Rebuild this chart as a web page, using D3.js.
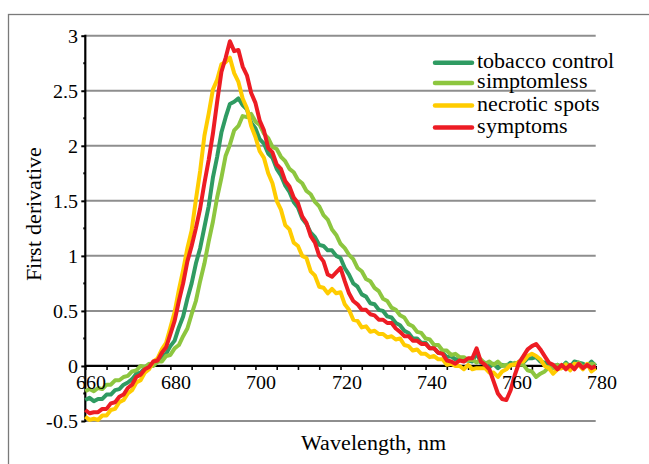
<!DOCTYPE html>
<html>
<head>
<meta charset="utf-8">
<script src="https://cdn.jsdelivr.net/npm/d3@7"></script>
<style>
  @font-face {
    font-family: "ChartSerif";
    src: local("Liberation Serif"), local("LiberationSerif"), local("LiberationSerif-Regular"), local("Liberation Serif Regular");
  }
  text { font-family: "ChartSerif", "Liberation Serif", serif !important; }
</style>
</head>
<body style="margin:0">
<svg id="chart" width="649" height="464" style="display:block"></svg>
<script>
// wavelength, nm (one point per nm)
var wavelengths = d3.range(660, 781);

var tobaccoControl = [
  -0.31,-0.29,-0.32,-0.30,-0.30,-0.26,-0.26,-0.22,-0.21,-0.17,
  -0.15,-0.12,-0.07,-0.06,-0.02,-0.01, 0.03, 0.04, 0.09, 0.11,
   0.18, 0.23, 0.35, 0.45, 0.61, 0.75, 0.93, 1.07, 1.26, 1.45,
   1.71, 1.90, 2.12, 2.26, 2.38, 2.40, 2.43, 2.37, 2.33, 2.21,
   2.16, 2.06, 2.02, 1.93, 1.89, 1.79, 1.73, 1.64, 1.58, 1.49,
   1.44, 1.34, 1.29, 1.21, 1.17, 1.10, 1.09, 1.05, 1.05, 1.00,
   0.98, 0.89, 0.83, 0.75, 0.72, 0.65, 0.63, 0.57, 0.56, 0.51,
   0.50, 0.45, 0.44, 0.39, 0.37, 0.32, 0.30, 0.25, 0.25, 0.21,
   0.21, 0.16, 0.16, 0.12, 0.12, 0.08, 0.09, 0.06, 0.06, 0.05,
   0.05, 0.04, 0.12, 0.03, 0.03,-0.01, 0.02,-0.02, 0.01, 0.00,
   0.03, 0.01, 0.04, 0.03, 0.07, 0.07, 0.08, 0.04, 0.03,-0.01,
   0.00, 0.01,-0.01, 0.03,-0.01, 0.04, 0.03, 0.02, 0.00, 0.04,
   0.00
];

var simptomless = [
  -0.23,-0.21,-0.23,-0.20,-0.21,-0.17,-0.17,-0.13,-0.13,-0.10,
  -0.09,-0.05,-0.04, 0.00,-0.01, 0.02, 0.00, 0.04, 0.04, 0.09,
   0.10, 0.16, 0.19, 0.27, 0.34, 0.47, 0.59, 0.77, 0.93, 1.13,
   1.31, 1.53, 1.71, 1.91, 2.01, 2.14, 2.18, 2.27, 2.26, 2.29,
   2.22, 2.19, 2.11, 2.07, 1.99, 1.97, 1.90, 1.86, 1.79, 1.76,
   1.69, 1.66, 1.59, 1.56, 1.49, 1.45, 1.37, 1.33, 1.24, 1.19,
   1.11, 1.07, 1.01, 0.97, 0.89, 0.86, 0.79, 0.77, 0.71, 0.68,
   0.61, 0.59, 0.53, 0.51, 0.46, 0.44, 0.38, 0.36, 0.31, 0.30,
   0.25, 0.24, 0.19, 0.19, 0.14, 0.14, 0.10, 0.11, 0.08, 0.08,
   0.05, 0.06, 0.03, 0.06, 0.02, 0.04, 0.01, 0.04, 0.00, 0.01,
   0.00, 0.03, 0.01, 0.01,-0.04,-0.05,-0.10,-0.07,-0.05,-0.01,
  -0.02, 0.01,-0.02, 0.02,-0.01, 0.00, 0.03,-0.01, 0.00, 0.02,
   0.01
];

var necroticSpots = [
  -0.46,-0.49,-0.48,-0.49,-0.45,-0.45,-0.40,-0.39,-0.33,-0.31,
  -0.25,-0.22,-0.15,-0.13,-0.06,-0.03, 0.04, 0.07, 0.15, 0.21,
   0.35, 0.49, 0.69, 0.87, 1.07, 1.23, 1.51, 1.77, 2.09, 2.29,
   2.51, 2.60, 2.74, 2.76, 2.80, 2.66, 2.58, 2.43, 2.34, 2.18,
   2.08, 1.95, 1.89, 1.75, 1.66, 1.50, 1.42, 1.28, 1.24, 1.12,
   1.09, 1.00, 0.98, 0.86, 0.82, 0.72, 0.71, 0.66, 0.70, 0.66,
   0.67, 0.56, 0.51, 0.42, 0.41, 0.35, 0.36, 0.31, 0.32, 0.29,
   0.29, 0.26, 0.27, 0.24, 0.25, 0.19, 0.18, 0.14, 0.15, 0.11,
   0.11, 0.08, 0.09, 0.06, 0.06, 0.01, 0.02, 0.00, 0.00,-0.03,
   0.01,-0.03,-0.02,-0.02,-0.02,-0.06,-0.06,-0.10,-0.05,-0.03,
   0.01, 0.01, 0.04, 0.04, 0.09, 0.11, 0.09, 0.06, 0.00,-0.02,
  -0.07,-0.03,-0.02, 0.01,-0.04, 0.02, 0.01,-0.03, 0.02,-0.05,
  -0.02
];

var symptoms = [
  -0.40,-0.43,-0.42,-0.42,-0.39,-0.39,-0.34,-0.33,-0.28,-0.26,
  -0.20,-0.17,-0.10,-0.08,-0.03,-0.01, 0.04, 0.05, 0.12, 0.17,
   0.29, 0.41, 0.59, 0.75, 0.95, 1.09, 1.25, 1.43, 1.66, 1.87,
   2.11, 2.40, 2.67, 2.80, 2.95, 2.86, 2.87, 2.72, 2.64, 2.48,
   2.39, 2.23, 2.14, 1.98, 1.94, 1.83, 1.79, 1.68, 1.63, 1.53,
   1.48, 1.36, 1.30, 1.18, 1.12, 1.00, 0.95, 0.83, 0.81, 0.85,
   0.89, 0.77, 0.66, 0.59, 0.56, 0.51, 0.51, 0.47, 0.46, 0.42,
   0.42, 0.39, 0.39, 0.34, 0.31, 0.27, 0.27, 0.23, 0.23, 0.20,
   0.20, 0.16, 0.16, 0.12, 0.11, 0.05, 0.04, 0.02, 0.05, 0.04,
   0.07, 0.07, 0.16, 0.04, 0.01,-0.03,-0.14,-0.25,-0.30,-0.31,
  -0.22,-0.08, 0.03, 0.09, 0.15, 0.18, 0.20, 0.15, 0.09, 0.03,
   0.01,-0.03, 0.01,-0.03, 0.01,-0.03, 0.02,-0.02, 0.01,-0.02,
   0.00
];

var seriesNames = ["tobacco control", "simptomless", "necrotic spots", "symptoms"];
var seriesColors = ["#2f9b62", "#8dc63f", "#ffcc00", "#ed1c24"];
var xTicks = [660, 680, 700, 720, 740, 760, 780];
var yTicks = [-0.5, 0, 0.5, 1, 1.5, 2, 2.5, 3];

var svg = d3.select("#chart");
var W = 649, H = 464;
var margin = {left: 85.3, right: 53.3, top: 35.7, bottom: 43};

// outer frame, runs off the right and bottom edge
svg.append("rect")
    .attr("x", 8.5).attr("y", 14.5)
    .attr("width", 700).attr("height", 500)
    .attr("fill", "none")
    .attr("stroke", "#7a7a7a")
    .attr("stroke-width", 1.3);

var x = d3.scaleLinear().domain([660, 780]).range([margin.left, W - margin.right]);
var y = d3.scaleLinear().domain([-0.5, 3]).range([H - margin.bottom, margin.top]);

// grid lines
svg.append("g")
    .selectAll("line")
    .data(yTicks.filter(d => d !== 0))
    .enter().append("line")
    .attr("x1", x(660)).attr("x2", x(780))
    .attr("y1", d => y(d)).attr("y2", d => y(d))
    .attr("stroke", "#8e8e8e")
    .attr("stroke-width", 2);

// y axis: major ticks, minor ticks every 0.25
var yAxis = svg.append("g")
    .attr("transform", "translate(" + x(660) + ",0)")
    .call(d3.axisLeft(y).tickValues(yTicks).tickSize(4).tickFormat(""));
yAxis.select(".domain").remove();
yAxis.attr("font-family", null);
yAxis.selectAll("line").attr("stroke-width", 2);

svg.append("g")
    .selectAll("line")
    .data(d3.range(-0.25, 3, 0.5))
    .enter().append("line")
    .attr("x1", x(660) - 2).attr("x2", x(660))
    .attr("y1", d => y(d)).attr("y2", d => y(d))
    .attr("stroke", "#000").attr("stroke-width", 2);

svg.append("line")
    .attr("x1", x(660)).attr("x2", x(660))
    .attr("y1", y(3) - 1).attr("y2", y(-0.5) + 1)
    .attr("stroke", "#000").attr("stroke-width", 2.2);

// x axis sits on y = 0, ticks every 5 nm
var xAxis = svg.append("g")
    .attr("transform", "translate(0," + y(0) + ")")
    .call(d3.axisBottom(x).tickValues(d3.range(660, 781, 5)).tickSize(4).tickFormat(""));
xAxis.select(".domain").remove();
xAxis.attr("font-family", null);
xAxis.selectAll("line").attr("stroke-width", 1.6);

svg.append("line")
    .attr("x1", x(660)).attr("x2", x(780))
    .attr("y1", y(0)).attr("y2", y(0))
    .attr("stroke", "#000").attr("stroke-width", 2.2);

// curves
var line = d3.line()
    .x((d, i) => x(wavelengths[i]))
    .y(d => y(d));

var allSeries = [tobaccoControl, simptomless, necroticSpots, symptoms];
svg.append("g")
    .selectAll("path")
    .data(allSeries)
    .enter().append("path")
    .attr("d", line)
    .attr("fill", "none")
    .attr("stroke", (d, i) => seriesColors[i])
    .attr("stroke-width", 4)
    .attr("stroke-linejoin", "round");

// text
var labels = svg.append("g").attr("font-family", "Liberation Serif");

labels.selectAll(".ylab")
    .data(yTicks)
    .enter().append("text")
    .attr("class", "ylab")
    .attr("x", x(660) - 7)
    .attr("y", d => y(d) + 7)
    .attr("text-anchor", "end")
    .attr("font-size", 20)
    .text(d => String(d));

labels.selectAll(".xlab")
    .data(xTicks)
    .enter().append("text")
    .attr("class", "xlab")
    .attr("x", d => x(d) + 6)
    .attr("y", y(0) + 23)
    .attr("text-anchor", "middle")
    .attr("font-size", 20)
    .text(d => d);

// legend
var legendY = [62.7, 83, 105.5, 127.5];
var legend = labels.selectAll(".leg")
    .data(seriesNames)
    .enter().append("g")
    .attr("class", "leg")
    .attr("transform", (d, i) => "translate(435," + legendY[i] + ")");
legend.append("line")
    .attr("x1", 0).attr("x2", 37)
    .attr("stroke", (d, i) => seriesColors[i])
    .attr("stroke-width", 4.5)
    .attr("stroke-linecap", "round");
legend.append("text")
    .attr("x", 42).attr("y", 5)
    .attr("font-size", 22)
    .text(d => d);

// axis titles
labels.append("text")
    .attr("x", 373).attr("y", 450)
    .attr("text-anchor", "middle")
    .attr("font-size", 22)
    .text("Wavelength, nm");

labels.append("text")
    .attr("transform", "translate(41,214)rotate(-90)")
    .attr("text-anchor", "middle")
    .attr("font-size", 22)
    .text("First derivative");

labels.selectAll("text")
    .attr("font-family", "Liberation Serif")
    .style("font-family", "Liberation Serif");
</script>
</body>
</html>
